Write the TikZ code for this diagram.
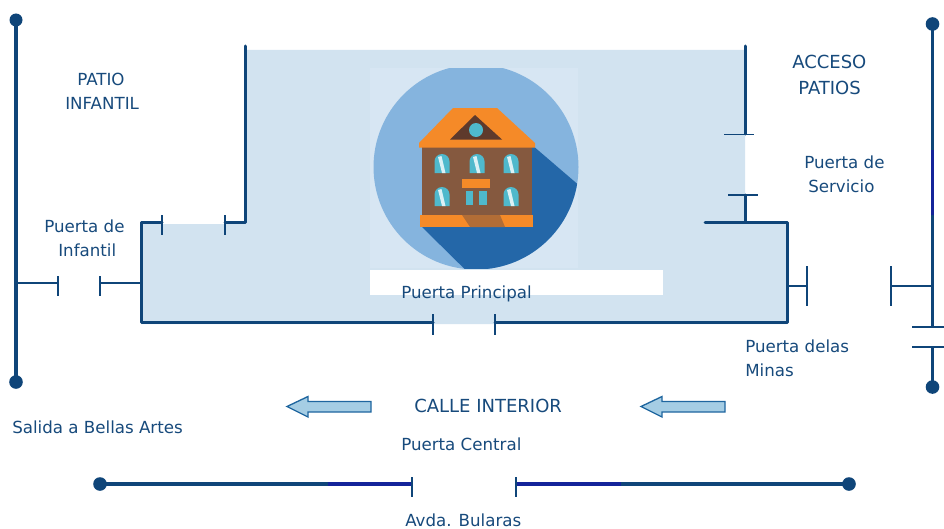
\documentclass[tikz,border=0pt]{standalone}
\usepackage{fontspec}
\setmainfont{DejaVu Sans}
\definecolor{wallc}{HTML}{0F4579}
\definecolor{textc}{HTML}{174A7C}
\definecolor{floorc}{HTML}{D2E3F0}
\definecolor{panelc}{HTML}{D7E6F3}
\definecolor{discc}{HTML}{85B4DE}
\definecolor{shadowc}{HTML}{2467A8}
\definecolor{roofc}{HTML}{F58A28}
\definecolor{brickc}{HTML}{85593F}
\definecolor{darkbr}{HTML}{5E3A2C}
\definecolor{glassc}{HTML}{4FB9CC}
\definecolor{segc}{HTML}{14249A}
\definecolor{arrowf}{HTML}{A5CDE4}
\definecolor{arrowd}{HTML}{1F669F}
\tikzset{
  wall/.style={draw=wallc,line width=2.25pt,line cap=round,line join=round},
  road/.style={draw=wallc,line width=2.6pt},
  roadseg/.style={draw=segc,line width=3.4pt},
  tick/.style={draw=wallc,line width=1pt},
  enddot/.style={fill=wallc,draw=none},
  lbl/.style={text=textc,font=\fontsize{12.5pt}{14pt}\selectfont,inner sep=0pt,anchor=west},
  biglbl/.style={text=textc,font=\fontsize{13.5pt}{15pt}\selectfont,inner sep=0pt,anchor=west},
  flow/.style={fill=arrowf,draw=arrowd,line width=1pt,line join=miter},
  win/.style={fill=glassc,draw=none}
}
\begin{document}
\begin{tikzpicture}[x=0.75pt,y=-0.75pt]
\useasboundingbox (0,0) rectangle (944,528);
\fill[white] (0,0) rectangle (944,528);
% floor
\fill[floorc] (245,50) -- (745,50) -- (745,222) -- (787,222) -- (787,324) -- (495,324) -- (433,324) -- (141,324) -- (141,224) -- (245,224) -- cycle;
% icon
\fill[panelc] (370,68) rectangle (578,268);
\begin{scope}
  \clip (370,68) rectangle (579,268);
  \fill[discc] (476,167) circle[radius=102.5];
  \begin{scope}
    \clip (476,167) circle[radius=102.5];
    \fill[shadowc] (532,145) -- (610,212) -- (610,300) -- (496,300) -- (422,227) -- cycle;
  \end{scope}
\end{scope}
\fill[brickc] (422,147) rectangle (532,216);
\fill[roofc] (453,108) -- (497,108) -- (535,143) -- (535,147.5) -- (419,147.5) -- (419,143) -- cycle;
\fill[darkbr] (450,139.5) -- (475,115) -- (502,139.5) -- cycle;
\fill[win] (476,130) circle[radius=7];
\foreach \wx/\wy in {442/154,477/154,511/154,442/187,511/187}{
  \fill[win] (\wx-7.5,\wy+19) -- (\wx-7.5,\wy+7.5) arc[start angle=180,end angle=360,radius=7.5] -- (\wx+7.5,\wy+19) -- cycle;
  \fill[white!80!glassc] (\wx-4,\wy+3) -- (\wx-0.5,\wy+2) -- (\wx+3.5,\wy+19) -- (\wx,\wy+19) -- cycle;
}
\fill[roofc] (462,179) rectangle (490,188);
\fill[win] (466,191) rectangle (473,205);
\fill[win] (479,191) rectangle (487,205);
\fill[roofc] (420,215) rectangle (533,227);
\fill[brickc!60!roofc] (462,215) -- (500,215) -- (505,227) -- (470,227) -- cycle;
% white strip
\fill[white] (370,270) rectangle (663,295);
% walls
\draw[wall] (245,46) -- (245,222) -- (225,222);
\draw[tick] (225,215) -- (225,235);
\draw[wall] (162,222) -- (141,222) -- (141,322) -- (433,322);
\draw[tick] (162,215) -- (162,235);
\draw[tick] (433,314) -- (433,335);
\draw[wall] (495,322) -- (787,322) -- (787,222) -- (705,222);
\draw[tick] (495,314) -- (495,335);
\draw[wall] (745,46) -- (745,134);
\draw[tick] (724,134.5) -- (754,134.5);
\draw[wall] (745,222) -- (745,195);
\draw[tick] (728,195) -- (758,195);
% side doors
\draw[tick] (16,283) -- (58,283);
\draw[tick] (58,276) -- (58,296);
\draw[tick] (100,283) -- (141,283);
\draw[tick] (100,276) -- (100,296);
\draw[tick] (787,286) -- (807,286);
\draw[tick] (807,266) -- (807,306);
\draw[tick] (891,286) -- (932,286);
\draw[tick] (891,266) -- (891,306);
% left road
\draw[road] (16,20) -- (16,382);
\fill[enddot] (16,20) circle[radius=6.5];
\fill[enddot] (16,382) circle[radius=6.8];
% right road
\draw[road] (932.5,24) -- (932.5,327);
\draw[draw=segc,line width=2.6pt] (932.5,150) -- (932.5,215);
\draw[road] (932.5,347) -- (932.5,387);
\fill[enddot] (932.5,24) circle[radius=6.8];
\fill[enddot] (932.5,387) circle[radius=6.8];
\draw[tick] (912,327) -- (944,327);
\draw[tick] (912,347) -- (944,347);
% bottom road
\draw[road] (100,484) -- (412,484);
\draw[roadseg] (328,484) -- (412,484);
\draw[tick] (412,477) -- (412,497);
\draw[road] (516,484) -- (849,484);
\draw[roadseg] (516,484) -- (621,484);
\draw[tick] (516,477) -- (516,497);
\fill[enddot] (100,484) circle[radius=6.8];
\fill[enddot] (849,484) circle[radius=6.8];
% flow arrows
\draw[flow] (287,406.5) -- (308,396.5) -- (308,401.5) -- (371,401.5) -- (371,412) -- (308,412) -- (308,417) -- cycle;
\draw[flow] (641,406.5) -- (662,396.5) -- (662,401.5) -- (725,401.5) -- (725,412) -- (662,412) -- (662,417) -- cycle;
% labels
\node[lbl] (patio) at (77,79) {PATIO};
\node[lbl] (infantil) at (65,103) {INFANTIL};
\node[lbl] (pinf1) at (44,226) {Puerta de};
\node[lbl] (pinf2) at (58,250) {Infantil};
\node[biglbl] (acc) at (792,62) {ACCESO};
\node[biglbl] (pat) at (798,88) {PATIOS};
\node[lbl] (serv1) at (804,162) {Puerta de};
\node[lbl] (serv2) at (808,186) {Servicio};
\node[lbl] (prin) at (401,294) {Puerta Principal};
\node[lbl] (min1) at (745,346) {Puerta delas};
\node[lbl] (min2) at (745,370) {Minas};
\node[lbl] (sal) at (12,427) {Salida a Bellas Artes};
\node[biglbl] (calle) at (414,406) {CALLE INTERIOR};
\node[lbl] (cen) at (401,444) {Puerta Central};
\node[lbl] (avda) at (405,520) {Avda. Bularas};
\end{tikzpicture}
\end{document}
